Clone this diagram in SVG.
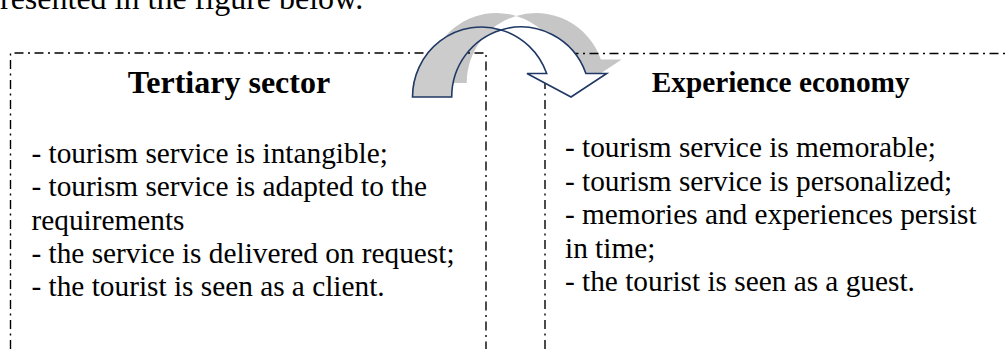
<svg xmlns="http://www.w3.org/2000/svg" width="1005" height="349" viewBox="0 0 1005 349">
<defs>
<style>
.body{font-family:"Liberation Serif","Times New Roman",serif;font-size:29.3px;fill:#000}
.title{font-family:"Liberation Serif","Times New Roman",serif;font-weight:bold;fill:#000}
.frame{fill:none;stroke:#000;stroke-width:1.4;stroke-dasharray:9 4.5 2 4.5}
.arrow-line{stroke:#1f3864;stroke-width:1.6;stroke-linejoin:miter}
</style>
<g id="arrow-shape">
<path id="crescent" d="M412.5,97 A69,70 0 0 1 501.1,29.9 A69,70 0 0 0 451.7,97 Z"/>
<path id="band" d="M501.1,29.9 A69,70 0 0 1 585.9,73.5 L606.7,73.5 L571,97 L527,73.5 L546.7,73.5 A69,70 0 0 0 501.1,29.9 Z"/>
</g>
</defs>
<rect width="1005" height="349" fill="#fff"/>
<text class="body" x="0" y="9" style="font-size:32px">resented in the figure below.</text>
<g id="shadow" transform="translate(15,-14)" fill="#c6c6c6">
<use href="#crescent"/>
<use href="#band"/>
</g>
<g id="tertiary-sector">
<path class="frame" d="M10.5,349 V53 H486 V349"/>
<text class="title" x="229" y="93" text-anchor="middle" style="font-size:32px">Tertiary sector</text>
<text class="body" x="31.5" y="163">- tourism service is intangible;</text>
<text class="body" x="31.5" y="196.3">- tourism service is adapted to the</text>
<text class="body" x="31.5" y="229.6">requirements</text>
<text class="body" x="31.5" y="263">- the service is delivered on request;</text>
<text class="body" x="31.5" y="296.3">- the tourist is seen as a client.</text>
</g>
<g id="experience-economy">
<path class="frame" d="M545,349 V53.5 H1005"/>
<text class="title" x="651.7" y="91.5" style="font-size:29.3px">Experience economy</text>
<text class="body" x="565" y="157">- tourism service is memorable;</text>
<text class="body" x="565" y="190.5">- tourism service is personalized;</text>
<text class="body" x="565" y="224">- memories and experiences persist</text>
<text class="body" x="565" y="257.5">in time;</text>
<text class="body" x="565" y="291">- the tourist is seen as a guest.</text>
</g>
<g id="connectors">
<use href="#crescent" fill="#cccccc" class="arrow-line"/>
<use href="#band" fill="#ffffff" class="arrow-line"/>
</g>
</svg>
